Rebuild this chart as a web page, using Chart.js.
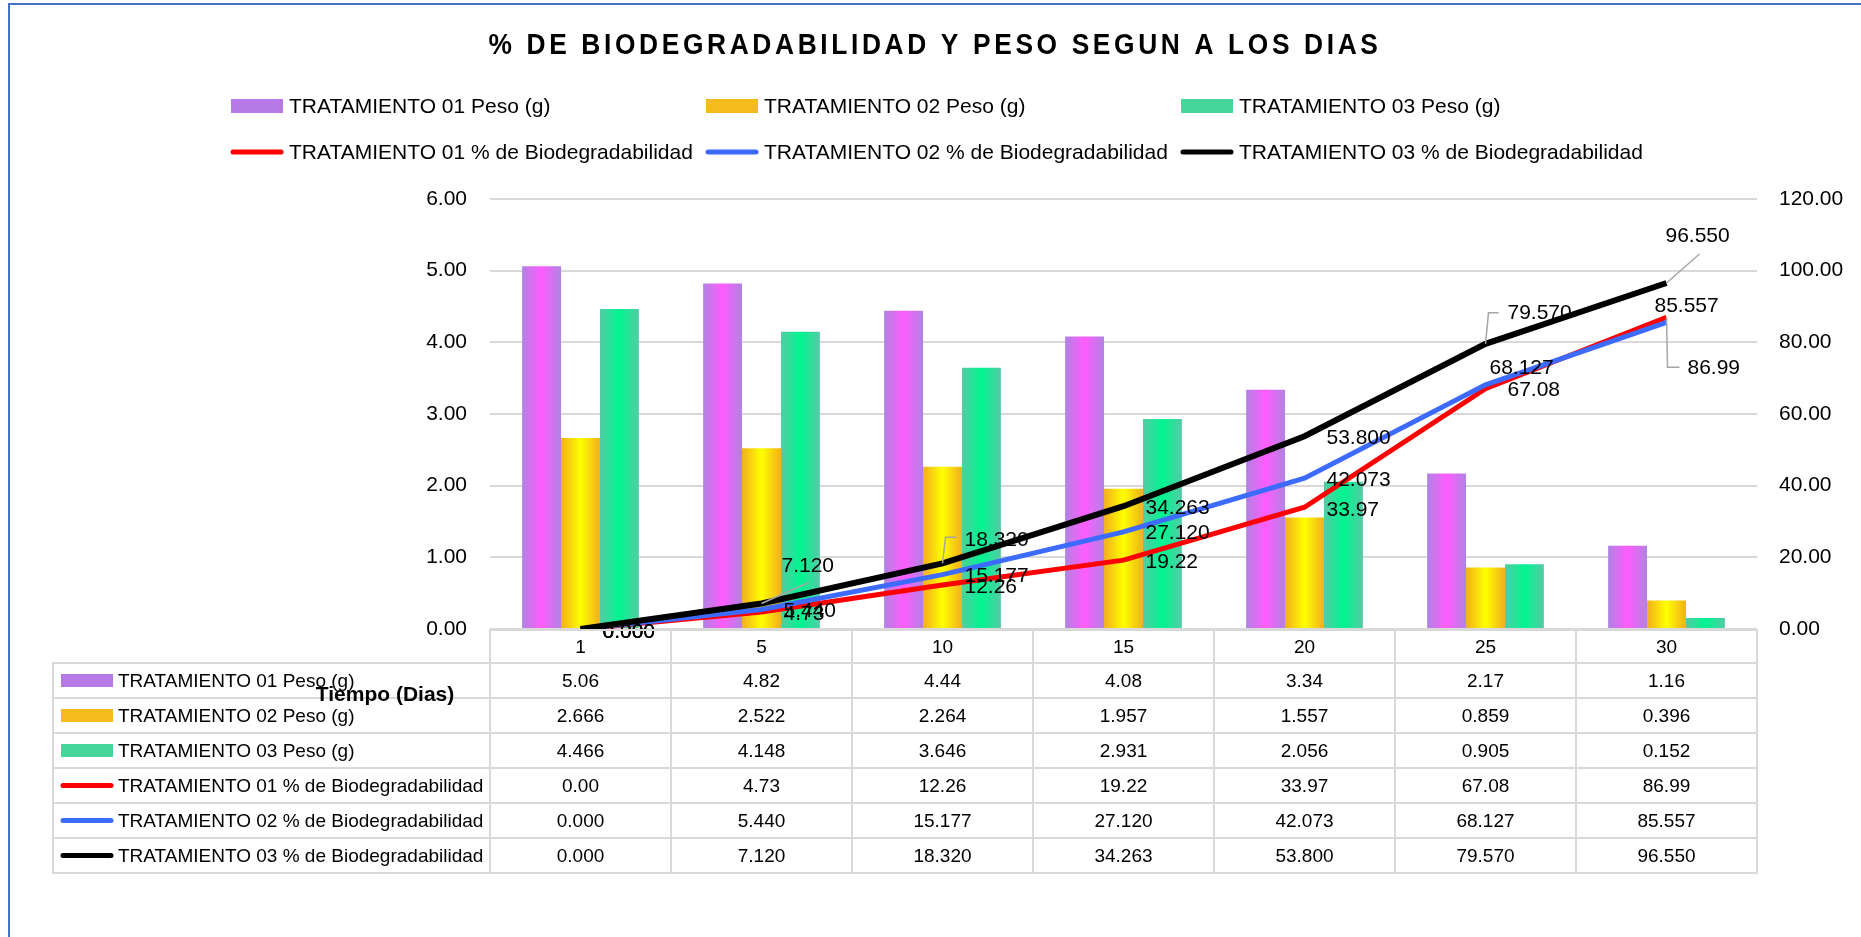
<!DOCTYPE html>
<html lang="es">
<head>
<meta charset="UTF-8">
<title>% de Biodegradabilidad y Peso segun a los dias</title>
<script src="https://cdn.jsdelivr.net/npm/chart.js"></script>
<style>
  body { margin: 0; background: #fff; }
  canvas { display: block; }
</style>
</head>
<body>
<canvas id="grafico" width="1861" height="937"></canvas>
<script>
const dias = ['1', '5', '10', '15', '20', '25', '30'];
const peso01 = [5.06, 4.82, 4.44, 4.08, 3.34, 2.17, 1.16];
const peso02 = [2.666, 2.522, 2.264, 1.957, 1.557, 0.859, 0.396];
const peso03 = [4.466, 4.148, 3.646, 2.931, 2.056, 0.905, 0.152];
const bio01 = [0.00, 4.73, 12.26, 19.22, 33.97, 67.08, 86.99];
const bio02 = [0.000, 5.440, 15.177, 27.120, 42.073, 68.127, 85.557];
const bio03 = [0.000, 7.120, 18.320, 34.263, 53.800, 79.570, 96.550];
const decimales = [2, 3, 3, 2, 3, 3];

const fuente = '"Liberation Sans", Arial, sans-serif';
const grisLinea = '#D9D9D9';

// desplazamiento de las etiquetas de datos (x del texto, y del centro) y lineas guia
const etiquetas = {
  3: [[22, 3], [22, 2], [22, 2], [22, 2], [22, 3], [22, 2], [21, 51, [[1, 50], [13, 50]]]],
  4: [[22, 3], [22, 2], [22, 2], [22, 1], [22, 2], [4, -17], [-12, -16]],
  5: [[22, 3], [20, -37, [[47, -21]]], [22, -23, [[3, -26], [14, -26]]], [22, 2], [22, 2],
      [22, -31, [[3, -31], [13, -31]]], [-1, -47, [[33, -29]]]]
};

function degradado(borde, centro, pos) {
  return (c) => {
    const chart = c.chart, x = chart.scales.x;
    if (!chart.chartArea || !x || c.dataIndex === undefined) return centro;
    const paso = x.getPixelForValue(1) - x.getPixelForValue(0);
    const grupo = paso * 0.645, ancho = grupo / 3;
    const izq = x.getPixelForValue(c.dataIndex) - grupo / 2 + pos * ancho;
    const g = chart.ctx.createLinearGradient(izq, 0, izq + ancho, 0);
    g.addColorStop(0, borde);
    g.addColorStop(0.5, centro);
    g.addColorStop(1, borde);
    return g;
  };
}

const muestras = ['#B57AE6', '#F5BB1C', '#45D69A', '#FF0000', '#3D6BFF', '#000000'];

function dibujarMuestra(ctx, i, x, y, w, h) {
  if (i < 3) {
    ctx.fillStyle = muestras[i];
    ctx.fillRect(x, y - h / 2, w, h);
  } else {
    ctx.strokeStyle = muestras[i];
    ctx.lineWidth = 5;
    ctx.lineCap = 'round';
    ctx.beginPath();
    ctx.moveTo(x + 2, y);
    ctx.lineTo(x + w - 2, y);
    ctx.stroke();
  }
}

const extras = {
  id: 'extras',
  afterDatasetsDraw(chart) {
    const ctx = chart.ctx;
    ctx.save();
    ctx.font = '21px ' + fuente;
    ctx.fillStyle = '#000';
    ctx.textBaseline = 'middle';
    ctx.textAlign = 'left';
    [3, 4, 5].forEach(d => {
      const meta = chart.getDatasetMeta(d);
      meta.data.forEach((p, i) => {
        const [dx, dy, guia] = etiquetas[d][i];
        if (guia) {
          ctx.strokeStyle = '#A6A6A6';
          ctx.lineWidth = 1.5;
          ctx.beginPath();
          ctx.moveTo(p.x, p.y);
          guia.forEach(([gx, gy]) => ctx.lineTo(p.x + gx, p.y + gy));
          ctx.stroke();
        }
        const v = chart.data.datasets[d].data[i];
        ctx.fillText(v.toFixed(decimales[d]), p.x + dx, p.y + dy);
      });
    });
    ctx.restore();
  },
  afterDraw(chart) {
    const ctx = chart.ctx, area = chart.chartArea, x = chart.scales.x;
    const sets = chart.data.datasets;
    ctx.save();

    // marco
    ctx.strokeStyle = '#4472C4';
    ctx.lineWidth = 2;
    ctx.strokeRect(9, 4, 1900, 1000);

    // titulo
    ctx.fillStyle = '#000';
    ctx.font = 'bold 29px ' + fuente;
    ctx.textAlign = 'center';
    ctx.textBaseline = 'middle';
    ctx.letterSpacing = '4px';
    ctx.fillText('% DE BIODEGRADABILIDAD Y PESO SEGUN A LOS DIAS', 935, 46, 893);
    ctx.letterSpacing = '0px';

    // leyenda
    ctx.font = '21px ' + fuente;
    ctx.textAlign = 'left';
    sets.forEach((s, i) => {
      const lx = 231 + (i % 3) * 475;
      const ly = i < 3 ? 106 : 152;
      dibujarMuestra(ctx, i, lx, ly, 52, 14);
      ctx.fillStyle = '#000';
      ctx.fillText(s.label, lx + 58, ly + 1);
    });

    // tabla de datos
    const paso = x.getPixelForValue(1) - x.getPixelForValue(0);
    const izq = area.left, der = area.right, tope = area.bottom + 1;
    const filaCab = 33, fila = 35, tablaIzq = 53;
    const fin = tope + filaCab + fila * sets.length;
    ctx.strokeStyle = grisLinea;
    ctx.lineWidth = 2;
    ctx.beginPath();
    ctx.moveTo(izq, tope); ctx.lineTo(der, tope);
    for (let r = 0; r <= sets.length; r++) {
      const yy = tope + filaCab + r * fila;
      ctx.moveTo(tablaIzq, yy); ctx.lineTo(der, yy);
    }
    ctx.moveTo(tablaIzq, tope + filaCab); ctx.lineTo(tablaIzq, fin);
    for (let c = 0; c <= dias.length; c++) {
      const xx = x.getPixelForValue(c) - paso / 2;
      ctx.moveTo(xx, tope); ctx.lineTo(xx, fin);
    }
    ctx.stroke();

    ctx.font = '19px ' + fuente;
    sets.forEach((s, r) => {
      const cy = tope + filaCab + r * fila + fila / 2;
      dibujarMuestra(ctx, r, 61, cy, 52, 13);
      ctx.fillStyle = '#000';
      ctx.textAlign = 'left';
      ctx.fillText(s.label, 118, cy + 1);
      ctx.textAlign = 'center';
      s.data.forEach((v, c) => {
        ctx.fillText(v.toFixed(decimales[r]), x.getPixelForValue(c), cy + 1);
      });
    });

    // titulo del eje
    ctx.font = 'bold 21px ' + fuente;
    ctx.textAlign = 'center';
    ctx.fillText('Tiempo (Dias)', 385, 695);
    ctx.restore();
  }
};

const barra = (label, data, borde, centro, pos) => ({
  type: 'bar', label, data, yAxisID: 'y', order: 3,
  backgroundColor: degradado(borde, centro, pos),
  categoryPercentage: 0.645, barPercentage: 1.0
});
const linea = (label, data, color, ancho, orden) => ({
  type: 'line', label, data, yAxisID: 'y1', order: orden,
  borderColor: color, backgroundColor: color, borderWidth: ancho,
  pointRadius: 0, tension: 0, fill: false
});

new Chart(document.getElementById('grafico'), {
  type: 'bar',
  data: {
    labels: dias,
    datasets: [
      barra('TRATAMIENTO 01 Peso (g)', peso01, '#B083E2', '#FF5CFF', 0),
      barra('TRATAMIENTO 02 Peso (g)', peso02, '#F2AE1E', '#FFFF00', 1),
      barra('TRATAMIENTO 03 Peso (g)', peso03, '#55CBA4', '#00F590', 2),
      linea('TRATAMIENTO 01 % de Biodegradabilidad', bio01, '#FF0000', 5, 2),
      linea('TRATAMIENTO 02 % de Biodegradabilidad', bio02, '#3D6BFF', 5, 1),
      linea('TRATAMIENTO 03 % de Biodegradabilidad', bio03, '#000000', 6, 0)
    ]
  },
  options: {
    responsive: false,
    animation: false,
    devicePixelRatio: 1,
    layout: { padding: { top: 199, left: 0, right: 0, bottom: 0 } },
    plugins: { legend: { display: false }, title: { display: false }, tooltip: { enabled: false } },
    scales: {
      x: {
        grid: { display: false },
        border: { display: false },
        ticks: { color: '#000', font: { family: fuente, size: 19 }, padding: -1 },
        afterFit: s => { s.height = 308; }
      },
      y: {
        position: 'left', min: 0, max: 6,
        grid: { color: grisLinea, lineWidth: 2, drawTicks: false },
        border: { display: false },
        ticks: { stepSize: 1, color: '#000', padding: 23, font: { family: fuente, size: 21 },
                 callback: v => v.toFixed(2) },
        afterFit: s => { s.width = 490; }
      },
      y1: {
        position: 'right', min: 0, max: 120,
        grid: { display: false, drawTicks: false },
        border: { display: false },
        ticks: { stepSize: 20, color: '#000', padding: 22, font: { family: fuente, size: 21 },
                 callback: v => v.toFixed(2) },
        afterFit: s => { s.width = 104; }
      }
    }
  },
  plugins: [extras]
});
</script>
</body>
</html>
